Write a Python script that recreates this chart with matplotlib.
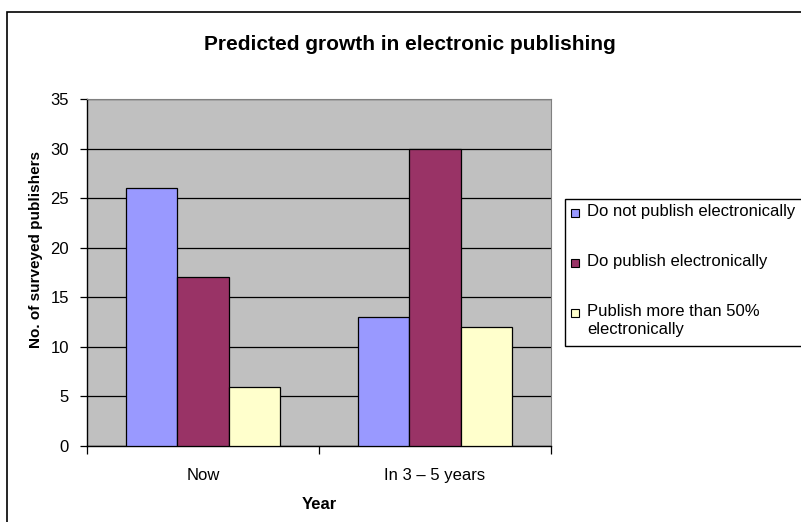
import matplotlib.pyplot as plt
from matplotlib.patches import Rectangle
import numpy as np

plt.rcParams['font.family'] = ['Liberation Sans', 'DejaVu Sans']

# data
categories = ['Now', 'In 3 \u2013 5 years']
series_labels = ['Do not publish electronically', 'Do publish electronically',
                 'Publish more than 50%\nelectronically']
series_values = [
    [26, 13],
    [17, 30],
    [6, 12],
]
colors = ['#9999FF', '#993366', '#FFFFCC']

W, H = 801, 522
fig = plt.figure(figsize=(W / 100, H / 100), dpi=100)

# chart area border (runs off the right and bottom edges)
fig.patches.append(Rectangle((7 / W, -0.1), 1.2, 1.1 - 12 / H, transform=fig.transFigure,
                             fill=False, edgecolor='black', linewidth=1.2))

left, right, top, bottom = 87, 551, 99, 446
ax = fig.add_axes([left / W, 1 - bottom / H, (right - left) / W, (bottom - top) / H])
ax.set_facecolor('#C0C0C0')

x = np.arange(len(categories))
bw = 0.2226
for i, vals in enumerate(series_values):
    ax.bar(x + (i - 1) * bw, vals, bw, color=colors[i], edgecolor='black',
           linewidth=0.9, zorder=3)

ax.set_xlim(-0.5, 1.5)
ax.set_ylim(0, 35)
ax.set_yticks(np.arange(0, 36, 5))
ax.yaxis.grid(True, color='black', linewidth=0.9, zorder=1)
ax.set_axisbelow(True)

ax.set_xticks(x)
ax.set_xticklabels(categories, fontsize=12)
ax.set_xticks([-0.5, 0.5, 1.5], minor=True)
ax.tick_params(axis='x', which='major', length=0, pad=16)
ax.tick_params(axis='x', which='minor', length=6, width=0.9, direction='out')
ax.tick_params(axis='y', length=5, width=0.9, direction='out', labelsize=12, pad=8)

for s in ['top', 'right']:
    ax.spines[s].set_color('#808080')
for s in ['left', 'bottom']:
    ax.spines[s].set_color('black')
    ax.spines[s].set_linewidth(1.0)

ax.set_xlabel('Year', fontsize=12, fontweight='bold', labelpad=10)
ax.set_ylabel('No. of surveyed publishers', fontsize=11, fontweight='bold')
ax.yaxis.label.set_va('center')
ax.yaxis.set_label_coords((36 - left) / (right - left), (bottom - 250) / (bottom - top))

fig.text(410 / W, 1 - 44 / H, 'Predicted growth in electronic publishing',
         ha='center', va='center', fontsize=15, fontweight='bold')

# legend box, cut off at the right edge like the original
fig.patches.append(Rectangle((565 / W, 1 - 346 / H), 0.5, (346 - 199) / H,
                             transform=fig.transFigure, facecolor='white',
                             edgecolor='black', linewidth=1.0))
entry_y = [213, 263, 313]
for lab, col, yy in zip(series_labels, colors, entry_y):
    fig.patches.append(Rectangle((571 / W, 1 - (yy + 4) / H), 8 / W, 8 / H,
                                 transform=fig.transFigure, facecolor=col,
                                 edgecolor='black', linewidth=0.8))
    fig.text(587 / W, 1 - (yy - 9) / H, lab, ha='left', va='top', fontsize=12,
             linespacing=1.25)

fig.savefig('out.png', dpi=100)
